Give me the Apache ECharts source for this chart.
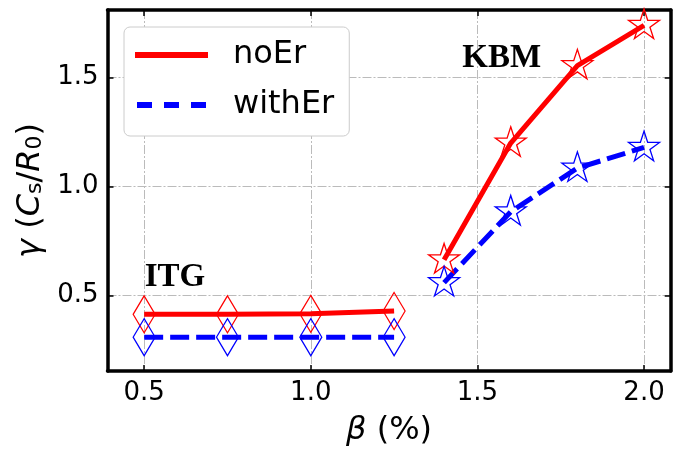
<!DOCTYPE html>
<html>
<head>
<meta charset="utf-8">
<script src="https://cdn.jsdelivr.net/npm/echarts@6/dist/echarts.min.js"></script>
<style>
  html, body { margin: 0; padding: 0; background: #fff; }
  #main { width: 681px; height: 452px; }
</style>
</head>
<body>
<div id="main"></div>
<script>
// beta (%) scan, ITG branch and KBM branch
var itgBeta = [0.5, 0.75, 1.0, 1.25];
var itgNoEr = [0.415, 0.415, 0.417, 0.43];
var itgWithEr = [0.31, 0.31, 0.31, 0.31];

var kbmBeta = [1.4, 1.6, 1.8, 2.0];
var kbmNoEr = [0.665, 1.2, 1.555, 1.74];
var kbmWithEr = [0.56, 0.885, 1.085, 1.18];

// annotation labels (data coords of bottom-left corner)
var notes = [[0.503, 0.505, 'ITG'], [1.456, 1.51, 'KBM']];

var FONT = 'DejaVu Sans';
var starPath = 'path://M0,-100L22.45,-30.9L95.11,-30.9L36.33,11.8L58.78,80.9L0,38.2L-58.78,80.9L-36.33,11.8L-95.11,-30.9L-22.45,-30.9Z';

function zip(xs, ys) {
    return xs.map(function (x, i) { return [x, ys[i]]; });
}

var myChart = echarts.init(document.getElementById('main'), null, { renderer: 'canvas' });

var gridLine = { show: true, lineStyle: { color: '#bbbbbb', width: 1, type: [9, 2, 2, 2] } };
var frame = { show: true, onZero: false, lineStyle: { color: '#000', width: 3.5 } };
var inTick = { show: true, inside: true, length: 6, lineStyle: { color: '#000', width: 1.5 } };

function lineSeries(name, data, color, type) {
    return {
        name: name, type: 'line', data: data,
        symbol: 'none', showSymbol: false,
        itemStyle: { color: color },
        lineStyle: { color: color, width: 5, type: type },
        z: 3
    };
}

function markerSeries(name, data, color, symbol, size, offset) {
    return {
        name: name, type: 'scatter', data: data,
        symbol: symbol, symbolSize: size, symbolOffset: offset || [0, 0],
        itemStyle: { color: 'transparent', borderColor: color, borderWidth: 1.3, opacity: 1 },
        z: 4
    };
}

var option = {
    animation: false,
    backgroundColor: '#fff',
    grid: { left: 107.5, right: 10.3, top: 10, bottom: 78 },
    xAxis: [{
        type: 'value', min: 0.39, max: 2.08, splitNumber: 3,
        axisLine: frame, axisTick: inTick, splitLine: gridLine,
        axisLabel: {
            fontSize: 26, fontFamily: FONT, color: '#000', margin: 9,
            showMinLabel: false, showMaxLabel: false,
            formatter: function (v) { return v.toFixed(1); }
        },
        name: '{i|β} (%)', nameLocation: 'middle', nameGap: 44,
        nameTextStyle: {
            fontSize: 32, fontFamily: FONT, color: '#000',
            rich: { i: { fontSize: 32, fontFamily: FONT, fontStyle: 'italic', color: '#000' } }
        }
    }, {
        type: 'value', position: 'top', min: 0.39, max: 2.08, splitNumber: 3,
        axisLine: frame, axisTick: inTick, splitLine: { show: false },
        axisLabel: { show: false }
    }],
    yAxis: [{
        type: 'value', min: 0.155, max: 1.81, splitNumber: 3,
        axisLine: frame, axisTick: inTick, splitLine: gridLine,
        axisLabel: {
            fontSize: 26, fontFamily: FONT, color: '#000', margin: 9,
            showMinLabel: false, showMaxLabel: false,
            formatter: function (v) { return v.toFixed(1); }
        },
        name: '{i|γ} ({i|C}{s|s}/{i|R}{s|0})', nameLocation: 'middle', nameGap: 56, nameRotate: 90,
        nameTextStyle: {
            fontSize: 32, fontFamily: FONT, color: '#000',
            rich: {
                i: { fontSize: 32, fontFamily: FONT, fontStyle: 'italic', color: '#000' },
                s: { fontSize: 22, fontFamily: FONT, color: '#000', verticalAlign: 'bottom' }
            }
        }
    }, {
        type: 'value', position: 'right', min: 0.155, max: 1.81, splitNumber: 3,
        axisLine: frame, axisTick: inTick, splitLine: { show: false },
        axisLabel: { show: false }
    }],
    legend: {
        orient: 'vertical', left: 124, top: 27,
        padding: [11, 15, 14, 11],
        itemWidth: 73, itemHeight: 6, itemGap: 16,
        backgroundColor: '#fff', borderColor: '#cccccc', borderWidth: 1, borderRadius: 6,
        selectedMode: false,
        textStyle: { fontSize: 32, fontFamily: FONT, color: '#000', lineHeight: 34, padding: [0, 0, 0, 20] },
        data: [
            { name: 'noEr', icon: 'path://M0,0H73V6H0Z' },
            { name: 'withEr', icon: 'path://M0,0H15V6H0ZM27,0H42V6H27ZM54,0H69V6H54Z' }
        ]
    },
    series: [
        lineSeries('noEr', zip(itgBeta, itgNoEr), '#ff0000', 'solid'),
        lineSeries('noEr', zip(kbmBeta, kbmNoEr), '#ff0000', 'solid'),
        lineSeries('withEr', zip(itgBeta, itgWithEr), '#0000ff', [19, 7]),
        lineSeries('withEr', zip(kbmBeta, kbmWithEr), '#0000ff', [19, 7]),
        markerSeries('noEr-itg', zip(itgBeta, itgNoEr), '#ff0000', 'diamond', [22, 37]),
        markerSeries('withEr-itg', zip(itgBeta, itgWithEr), '#0000ff', 'diamond', [22, 37]),
        markerSeries('noEr-kbm', zip(kbmBeta, kbmNoEr), '#ff0000', starPath, [31, 29.5], [0, -1.5]),
        markerSeries('withEr-kbm', zip(kbmBeta, kbmWithEr), '#0000ff', starPath, [31, 29.5], [0, -1.5]),
        {
            name: 'notes', type: 'scatter', data: notes,
            symbolSize: 1, itemStyle: { color: 'transparent', opacity: 1 },
            label: {
                show: true, position: [0, 0], align: 'left', verticalAlign: 'bottom',
                formatter: function (p) { return p.data[2]; },
                fontFamily: 'Liberation Serif', fontWeight: 'bold', fontSize: 33, color: '#000'
            },
            z: 5
        }
    ]
};

myChart.setOption(option);
</script>
</body>
</html>
